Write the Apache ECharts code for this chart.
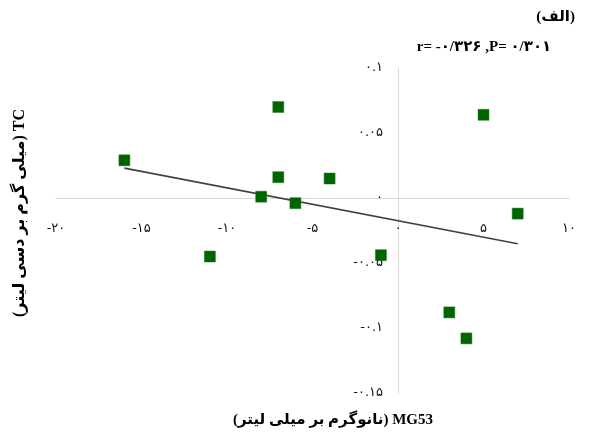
<!DOCTYPE html>
<html>
<head>
<meta charset="utf-8">
<script src="https://cdn.jsdelivr.net/npm/echarts@6/dist/echarts.min.js"></script>
<style>
  html, body { margin: 0; padding: 0; background: #fff; }
  #chart { width: 592px; height: 443px; }
</style>
</head>
<body>
<div id="chart"></div>
<script>
// MG53 change vs TC change, one square per subject
const mg53Values = [-16, -7, -7, -8, -6, -4, -11, -1, 5, 7, 3, 4];
const tcValues = [0.029, 0.070, 0.016, 0.001, -0.004, 0.015, -0.045, -0.044, 0.064, -0.012, -0.088, -0.108];

const xTicks = { min: -20, max: 10, interval: 5 };
const yTicks = { min: -0.15, max: 0.1, interval: 0.05 };

const statsText = 'r= -۰/۳۲۶ ,P= ۰/۳۰۱';
const panelText = '(الف)';
const xTitle = 'MG53 (نانوگرم بر میلی لیتر)';
const yTitle = 'TC (میلی گرم بر دسی لیتر)';

const points = mg53Values.map((x, i) => [x, tcValues[i]]);

// least-squares fit over the observed x range
function linearFit(xs, ys) {
  const n = xs.length;
  const mx = xs.reduce((a, b) => a + b, 0) / n;
  const my = ys.reduce((a, b) => a + b, 0) / n;
  let sxy = 0, sxx = 0;
  for (let i = 0; i < n; i++) {
    sxy += (xs[i] - mx) * (ys[i] - my);
    sxx += (xs[i] - mx) * (xs[i] - mx);
  }
  const slope = sxy / sxx;
  return { slope, intercept: my - slope * mx };
}
const fit = linearFit(mg53Values, tcValues);
const xLo = Math.min(...mg53Values), xHi = Math.max(...mg53Values);
const trend = [[xLo, fit.intercept + fit.slope * xLo], [xHi, fit.intercept + fit.slope * xHi]];

const faDigits = '۰۱۲۳۴۵۶۷۸۹';
function toFa(s) { return String(s).replace(/[0-9]/g, d => faDigits[+d]); }
function fmt(v) { return toFa(String(+v.toFixed(2))); }

const RTL = s => '\u202B' + s + '\u202C';
const titleFont = 'bold 15px "Liberation Serif", "DejaVu Sans", serif';
const tickLabel = { color: '#111', fontSize: 13, fontFamily: '"DejaVu Sans", sans-serif', formatter: fmt };

// plot area
const grid = { left: 56, right: 23, top: 68, bottom: 50 };
const W = 592, H = 443;
const gridW = W - grid.left - grid.right;
const gridH = H - grid.top - grid.bottom;
// both axes cross at zero: shift each inward from its grid edge by the scale share below zero
const xAxisOffset = -gridH * (0 - yTicks.min) / (yTicks.max - yTicks.min);
const yAxisOffset = -gridW * (0 - xTicks.min) / (xTicks.max - xTicks.min);

const chart = echarts.init(document.getElementById('chart'), null, { renderer: 'canvas' });
chart.setOption({
  animation: false,
  backgroundColor: '#ffffff',
  grid: Object.assign({ containLabel: false }, grid),
  xAxis: {
    type: 'value',
    position: 'bottom',
    offset: xAxisOffset,
    min: xTicks.min, max: xTicks.max, interval: xTicks.interval,
    axisLine: { show: true, onZero: false, lineStyle: { color: '#d9d9d9', width: 1 } },
    axisTick: { show: false },
    splitLine: { show: false },
    axisLabel: Object.assign({ margin: 24 }, tickLabel)
  },
  yAxis: {
    type: 'value',
    position: 'left',
    offset: yAxisOffset,
    min: yTicks.min, max: yTicks.max, interval: yTicks.interval,
    axisLine: { show: true, onZero: false, lineStyle: { color: '#d9d9d9', width: 1 } },
    axisTick: { show: false },
    splitLine: { show: false },
    axisLabel: Object.assign({ margin: 15 }, tickLabel)
  },
  graphic: [
    { type: 'text', x: 575, y: 17, style: { text: panelText, font: titleFont, fill: '#000', align: 'right', verticalAlign: 'middle' } },
    { type: 'text', x: 484, y: 47, style: { text: statsText, font: titleFont, fill: '#000', align: 'center', verticalAlign: 'middle' } },
    { type: 'text', x: 333, y: 420, style: { text: RTL(xTitle), font: titleFont, fill: '#000', align: 'center', verticalAlign: 'middle' } },
    { type: 'text', x: 20, y: 213, rotation: Math.PI / 2, style: { text: RTL(yTitle), font: 'bold 16px "Liberation Serif", "DejaVu Sans", serif', fill: '#000', align: 'center', verticalAlign: 'middle' } }
  ],
  series: [
    {
      type: 'line',
      data: trend,
      symbol: 'none',
      lineStyle: { color: '#404040', width: 1.6 },
      z: 2
    },
    {
      type: 'scatter',
      data: points,
      symbol: 'rect',
      symbolSize: 11,
      itemStyle: { color: '#006400', opacity: 1, borderColor: '#1f7a1f', borderWidth: 0.5 },
      z: 3
    }
  ]
});
</script>
</body>
</html>
